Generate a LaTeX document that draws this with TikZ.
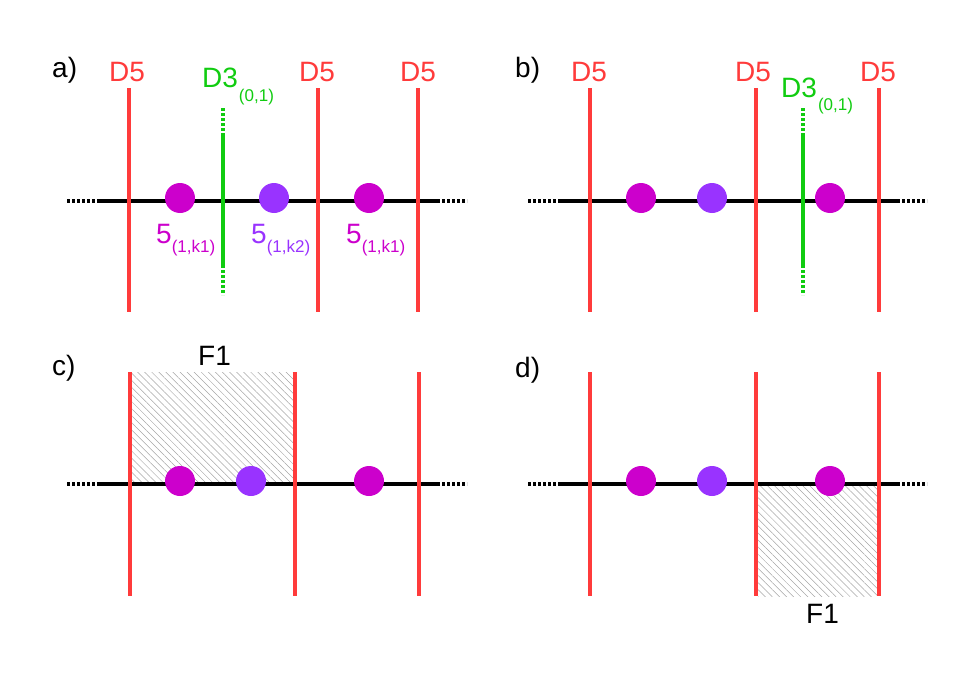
\documentclass[tikz,border=0pt]{standalone}
\usepackage{fontspec}
\setmainfont{Liberation Sans}
\usetikzlibrary{patterns.meta}

\definecolor{dfivered}{HTML}{FF3B3B}
\definecolor{dthreegreen}{HTML}{11CC11}
\definecolor{kmagenta}{HTML}{CC00CC}
\definecolor{kpurple}{HTML}{9933FF}
\newcommand{\bigsz}{\fontsize{28}{28}\selectfont}
\newcommand{\subsz}{\fontsize{17}{17}\selectfont}
\newcommand{\lowsub}[2]{\raisebox{-#1pt}{\subsz #2}}

\begin{document}
\begin{tikzpicture}[x=1pt, y=-1pt,
  dfive/.style={dfivered, line width=4pt},
  dthree/.style={dthreegreen, line width=4pt},
  dthreeend/.style={dthreegreen, line width=4pt, dash pattern=on 3pt off 2pt},
  brane/.style={black, line width=4pt},
  braneend/.style={black, line width=4pt, dash pattern=on 3pt off 2pt},
  kdot/.style={circle, inner sep=0pt, minimum size=30pt, fill=#1},
  lbl/.style={inner sep=0pt, anchor=base west, font=\bigsz},
  flux/.style={pattern={Lines[angle=-45,distance=5pt,line width=0.5pt]}, pattern color=gray!70}
]
\useasboundingbox (0,0) rectangle (975,680);

% Panel a)
\node[lbl] (la) at (52,77) {a)};
\draw[braneend] (67,201) -- (100,201);
\draw[brane] (100,201) -- (437,201);
\draw[braneend] (437,201) -- (467,201);
\draw[dthreeend] (223,108) -- (223,135);
\draw[dthree] (223,135) -- (223,265);
\draw[dthreeend] (223,265) -- (223,295);
\foreach \x in {129,318,418} \draw[dfive] (\x,88) -- (\x,312);
\node[kdot=kmagenta] (a1) at (180,198) {};
\node[kdot=kpurple] (a2) at (274,198) {};
\node[kdot=kmagenta] (a3) at (369,198) {};
\node[lbl, dfivered] (ad1) at (109,81) {D5};
\node[lbl, dfivered] (ad2) at (299,81) {D5};
\node[lbl, dfivered] (ad3) at (400,81) {D5};
\node[lbl, dthreegreen] (adthree) at (202,87) {D3\hspace{1pt}\lowsub{14}{(0,1)}};
\node[lbl, kmagenta] (ak1) at (156,243) {5\lowsub{9}{(1,k1)}};
\node[lbl, kpurple] (ak2) at (251,243) {5\lowsub{9}{(1,k2)}};
\node[lbl, kmagenta] (ak3) at (346,243) {5\lowsub{9}{(1,k1)}};

% Panel b)
\node[lbl] (lb) at (515,77) {b)};
\draw[braneend] (528,201) -- (558,201);
\draw[brane] (558,201) -- (897,201);
\draw[braneend] (897,201) -- (927,201);
\draw[dthreeend] (803,108) -- (803,133);
\draw[dthree] (803,133) -- (803,265);
\draw[dthreeend] (803,265) -- (803,295);
\foreach \x in {590,756,879} \draw[dfive] (\x,88) -- (\x,312);
\node[kdot=kmagenta] (b1) at (641,198) {};
\node[kdot=kpurple] (b2) at (712,198) {};
\node[kdot=kmagenta] (b3) at (830,198) {};
\node[lbl, dfivered] (bd1) at (571,81) {D5};
\node[lbl, dfivered] (bd2) at (735,81) {D5};
\node[lbl, dfivered] (bd3) at (860,81) {D5};
\node[lbl, dthreegreen] (bdthree) at (781,97) {D3\hspace{1pt}\lowsub{13}{(0,1)}};

% Panel c)
\node[lbl] (lc) at (52,375) {c)};
\fill[flux] (131,372) rectangle (293,482);
\draw[braneend] (67,484) -- (98,484);
\draw[brane] (98,484) -- (437,484);
\draw[braneend] (437,484) -- (467,484);
\foreach \x in {130,295,419} \draw[dfive] (\x,372) -- (\x,596);
\node[kdot=kmagenta] (c1) at (180,481) {};
\node[kdot=kpurple] (c2) at (251,481) {};
\node[kdot=kmagenta] (c3) at (369,481) {};
\node[lbl] (cf) at (198,365) {F1};

% Panel d)
\node[lbl] (ld) at (515,377) {d)};
\fill[flux] (758,486) rectangle (877,596);
\draw[braneend] (528,484) -- (558,484);
\draw[brane] (558,484) -- (897,484);
\draw[braneend] (897,484) -- (927,484);
\foreach \x in {590,756,879} \draw[dfive] (\x,372) -- (\x,596);
\node[kdot=kmagenta] (d1) at (641,481) {};
\node[kdot=kpurple] (d2) at (712,481) {};
\node[kdot=kmagenta] (d3) at (830,481) {};
\node[lbl] (df) at (806,623) {F1};

\end{tikzpicture}
\end{document}
